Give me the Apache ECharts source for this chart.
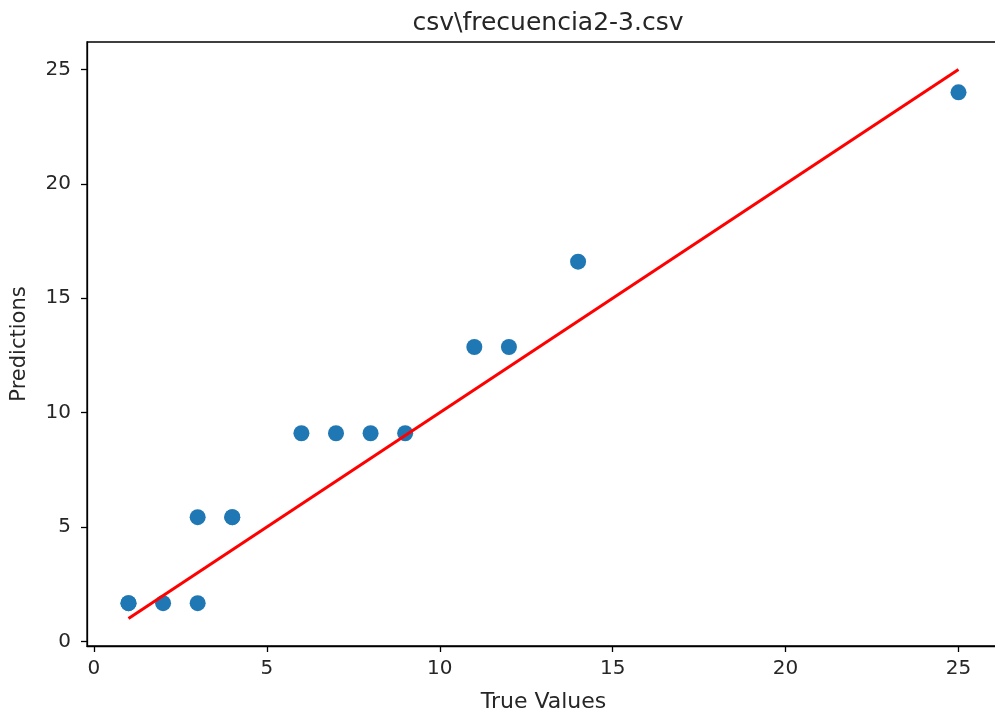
<!DOCTYPE html>
<html>
<head>
<meta charset="utf-8">
<script src="https://cdn.jsdelivr.net/npm/echarts@6/dist/echarts.min.js"></script>
<style>
html, body { margin: 0; padding: 0; background: #fff; }
#main { width: 995px; height: 715px; }
</style>
</head>
<body>
<div id="main"></div>
<script>
var trueValues = [1, 1, 2, 3, 3, 4, 4, 6, 7, 8, 9, 11, 12, 14, 25]
var predictions = [1.67, 1.67, 1.67, 1.67, 5.43, 5.43, 5.43, 9.1, 9.1, 9.1, 9.1, 12.87, 12.87, 16.6, 24.0]
var lineX = [1, 25]
var lineY = [1, 25]
var ticks = [0, 5, 10, 15, 20, 25]

var chart = echarts.init(document.getElementById('main'))

var pts = trueValues.map(function (v, i) { return [v, predictions[i]] })
var linePts = lineX.map(function (v, i) { return [v, lineY[i]] })

var font = 'DejaVu Sans'
var txt = '#262626'

function axis(name, gap, rotate, margin, nameSize) {
    return {
        type: 'value',
        min: -0.2,
        max: 26.2,
        name: name,
        nameLocation: 'middle',
        nameGap: gap,
        nameRotate: rotate,
        nameTextStyle: { fontFamily: font, fontSize: nameSize, color: txt },
        splitLine: { show: false },
        axisLine: { show: true, onZero: false, lineStyle: { color: '#000', width: 1.3 } },
        axisTick: { show: true, length: 6, customValues: ticks, lineStyle: { color: '#000', width: 1.3 } },
        axisLabel: { customValues: ticks, fontFamily: font, fontSize: 20, color: txt, margin: margin }
    }
}

chart.setOption({
    animation: false,
    title: {
        text: 'csv\\frecuencia2-3.csv',
        left: 543,
        textAlign: 'center',
        top: 6,
        textStyle: { fontFamily: font, fontSize: 25, fontWeight: 'normal', color: txt }
    },
    grid: {
        left: 87, top: 42, width: 913, height: 604,
        outerBoundsMode: 'none',
        containLabel: false,
        show: true, borderColor: '#000', borderWidth: 1.3
    },
    xAxis: axis('True Values', 45, 0, 13, 22),
    yAxis: axis('Predictions', 57, 90, 16, 21),
    series: [{
        type: 'scatter',
        data: pts,
        symbolSize: 16,
        itemStyle: { color: '#1f77b4', opacity: 1 },
        z: 2
    }, {
        type: 'line',
        data: linePts,
        symbol: 'none',
        lineStyle: { color: '#ff0000', width: 3 },
        z: 3
    }]
})
</script>
</body>
</html>
